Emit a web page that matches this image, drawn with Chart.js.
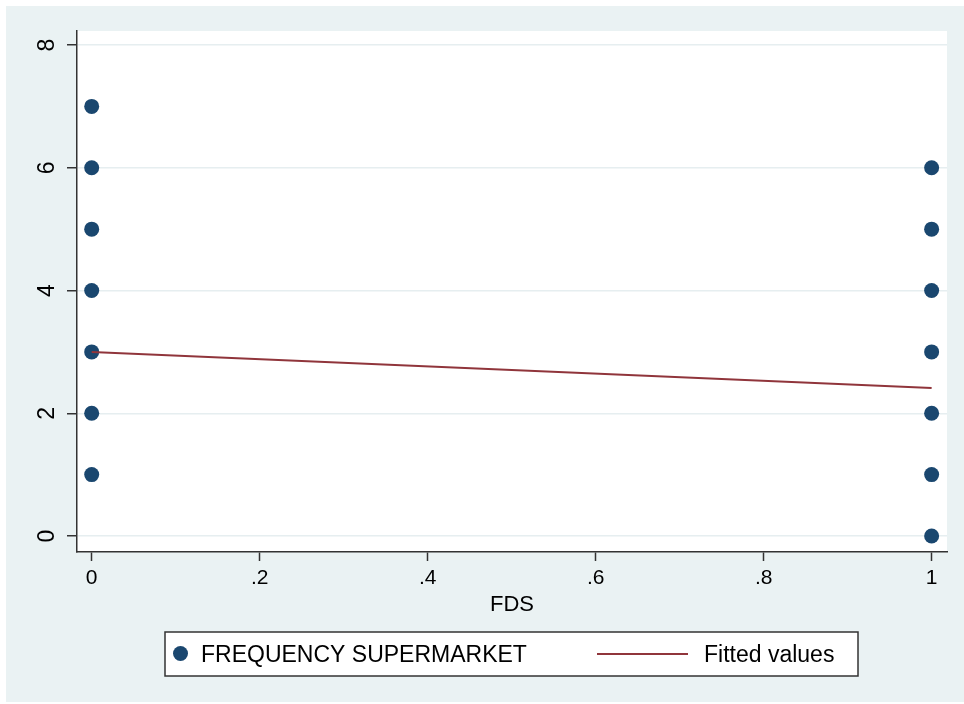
<!DOCTYPE html>
<html>
<head>
<meta charset="utf-8">
<script src="https://cdn.jsdelivr.net/npm/chart.js@4"></script>
<style>
  html, body { margin: 0; padding: 0; background: #ffffff; }
  #wrap { position: relative; width: 964px; height: 704px; }
</style>
</head>
<body>
<div id="wrap"><canvas id="c" width="964" height="704"></canvas></div>
<script>
// ---- data ----
const supermarketX = [0, 0, 0, 0, 0, 0, 0, 1, 1, 1, 1, 1, 1, 1];
const supermarketY = [1, 2, 3, 4, 5, 6, 7, 0, 1, 2, 3, 4, 5, 6];
const fittedX = [0, 1];
const fittedY = [3.0, 2.41];
const xTickValues = [0, 0.2, 0.4, 0.6, 0.8, 1];
const xTickLabels = ['0', '.2', '.4', '.6', '.8', '1'];
const yTickValues = [0, 2, 4, 6, 8];
const seriesLabels = ['FREQUENCY SUPERMARKET', 'Fitted values'];
const xTitle = 'FDS';

const navy = '#1a476f';
const maroon = '#90353b';
const bgColor = '#eaf2f3';
const FONT = '"Liberation Sans", Arial, Helvetica, sans-serif';

const bgPlugin = {
  id: 'bg',
  beforeDraw(chart) {
    const ctx = chart.ctx, a = chart.chartArea;
    ctx.save();
    ctx.fillStyle = '#ffffff';
    ctx.fillRect(0, 0, chart.width, chart.height);
    ctx.fillStyle = bgColor;
    ctx.fillRect(6, 6, chart.width - 6, chart.height - 8);
    ctx.fillStyle = '#ffffff';
    ctx.fillRect(a.left, a.top, a.right - a.left, a.bottom - a.top);
    ctx.restore();
  }
};

const legendPlugin = {
  id: 'boxLegend',
  afterDraw(chart) {
    const ctx = chart.ctx;
    const ds = chart.data.datasets;
    ctx.save();
    ctx.fillStyle = '#ffffff';
    ctx.fillRect(165, 632, 693, 44);
    ctx.strokeStyle = '#333333';
    ctx.lineWidth = 1.5;
    ctx.strokeRect(165, 632, 693, 44);
    // marker item
    ctx.fillStyle = ds[0].backgroundColor;
    ctx.beginPath();
    ctx.arc(180.5, 653.5, 7.5, 0, Math.PI * 2);
    ctx.fill();
    ctx.fillStyle = '#000000';
    ctx.font = '23px ' + FONT;
    ctx.textBaseline = 'alphabetic';
    ctx.textAlign = 'left';
    ctx.fillText(ds[0].label, 201, 662);
    // line item
    ctx.strokeStyle = ds[1].borderColor;
    ctx.lineWidth = 2;
    ctx.beginPath();
    ctx.moveTo(597, 654);
    ctx.lineTo(688, 654);
    ctx.stroke();
    ctx.fillStyle = '#000000';
    ctx.fillText(ds[1].label, 704, 662);
    ctx.restore();
  }
};

new Chart(document.getElementById('c'), {
  type: 'scatter',
  data: {
    datasets: [
      {
        label: seriesLabels[0],
        data: supermarketX.map((x, i) => ({ x: x, y: supermarketY[i] })),
        backgroundColor: navy,
        borderColor: navy,
        pointRadius: 7.5,
        pointBorderWidth: 0,
        order: 1
      },
      {
        type: 'line',
        label: seriesLabels[1],
        data: fittedX.map((x, i) => ({ x: x, y: fittedY[i] })),
        borderColor: maroon,
        backgroundColor: maroon,
        borderWidth: 2,
        pointRadius: 0,
        fill: false,
        order: 0
      }
    ]
  },
  options: {
    responsive: false,
    animation: false,
    devicePixelRatio: 1,
    clip: false,
    layout: { padding: { left: 0, top: 31, right: 17, bottom: 86 } },
    plugins: {
      legend: { display: false },
      tooltip: { enabled: false },
      title: { display: false }
    },
    scales: {
      x: {
        type: 'linear',
        min: -0.0175,
        max: 1.0183,
        afterBuildTicks(scale) { scale.ticks = xTickValues.map(v => ({ value: v })); },
        afterFit(scale) { scale.height = 66; },
        ticks: {
          callback(value) {
            const i = xTickValues.findIndex(v => Math.abs(v - value) < 1e-9);
            return i >= 0 ? xTickLabels[i] : '';
          },
          color: '#000000',
          font: { family: FONT, size: 21 },
          padding: 5,
          maxRotation: 0,
          minRotation: 0,
          autoSkip: false
        },
        grid: {
          display: true,
          drawOnChartArea: false,
          drawTicks: true,
          tickLength: 9,
          tickColor: '#333333',
          tickWidth: 1.5,
          color: '#333333'
        },
        border: { display: true, color: '#333333', width: 1.5 },
        title: {
          display: true,
          text: xTitle,
          color: '#000000',
          font: { family: FONT, size: 22 },
          padding: { top: 0, bottom: 0 }
        }
      },
      y: {
        type: 'linear',
        min: -0.261,
        max: 8.229,
        afterBuildTicks(scale) { scale.ticks = yTickValues.map(v => ({ value: v })); },
        afterFit(scale) { scale.width = 77; },
        ticks: {
          color: '#000000',
          font: { family: FONT, size: 23 },
          padding: 13,
          minRotation: 90,
          maxRotation: 90,
          crossAlign: 'center',
          autoSkip: false
        },
        grid: {
          display: true,
          drawOnChartArea: true,
          drawTicks: true,
          tickLength: 10,
          color: '#e6eef0',
          lineWidth: 1.5,
          tickColor: '#333333',
          tickWidth: 1.5
        },
        border: { display: true, color: '#333333', width: 1.5 }
      }
    }
  },
  plugins: [bgPlugin, legendPlugin]
});
</script>
</body>
</html>
